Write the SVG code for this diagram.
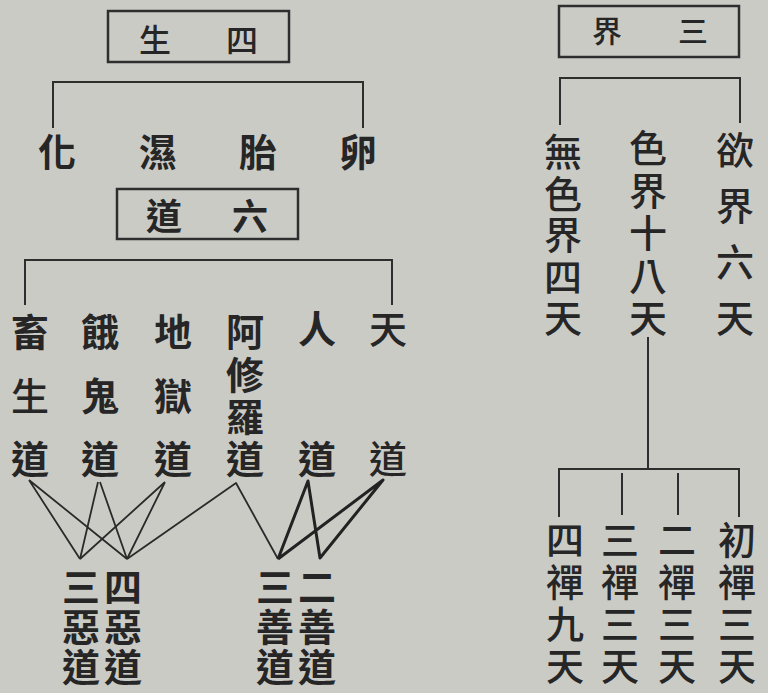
<svg xmlns="http://www.w3.org/2000/svg" width="768" height="693" viewBox="0 0 768 693">
<style>
.t{font-family:"Noto Sans CJK TC","Noto Sans CJK SC",sans-serif;fill:#262626;text-anchor:middle;font-weight:700}
.m{font-weight:500}
.v{writing-mode:vertical-rl;text-anchor:start}
.box{fill:none;stroke:#2e2e2e;stroke-width:2.5}
.br{fill:none;stroke:#2e2e2e;stroke-width:2}
.ln{fill:none;stroke:#2a2a2a;stroke-width:1.8;stroke-linejoin:round}
.lb{fill:none;stroke:#222;stroke-width:3;stroke-linejoin:round}
</style>
<rect width="768" height="693" fill="#cbcbc6"/>

<g id="sisheng">
<rect class="box" x="108" y="11" width="181" height="51"/>
<text class="t m" font-size="32" x="155" y="52">生</text>
<text class="t m" font-size="32" x="242" y="52">四</text>
</g>
<g id="hua"><text class="t" font-size="38" x="57" y="166">化</text></g>
<g id="shi"><text class="t" font-size="38" x="158" y="166">濕</text></g>
<g id="tai"><text class="t" font-size="38" x="258" y="166">胎</text></g>
<g id="luan"><text class="t" font-size="38" x="358" y="166">卵</text></g>

<g id="liudao">
<rect class="box" x="117" y="189" width="181" height="50"/>
<text class="t" font-size="36" x="164" y="230">道</text>
<text class="t" font-size="36" x="250" y="230">六</text>
</g>

<g id="chusheng">
<text class="t v" font-size="38" x="30" y="313" letter-spacing="25.5">畜<tspan font-weight="500">生</tspan>道</text>
</g>
<g id="egui">
<text class="t v" font-size="38" x="100" y="313" letter-spacing="25.5">餓鬼道</text>
</g>
<g id="diyu">
<text class="t v" font-size="38" x="173" y="313" letter-spacing="25.5">地獄道</text>
</g>
<g id="axiuluo">
<text class="t v" font-size="38" x="245" y="313" letter-spacing="4.3">阿修羅道</text>
</g>
<g id="rendao">
<text class="t" font-size="38" x="317" y="343">人</text>
<text class="t" font-size="38" x="317" y="473">道</text>
</g>
<g id="tiandao">
<text class="t m" font-size="38" x="388" y="343">天</text>
<text class="t m" font-size="38" x="388" y="473">道</text>
</g>

<g id="sanedao">
<text class="t v" font-size="38" x="81" y="568" letter-spacing="2">三惡道</text>
</g>
<g id="siedao">
<text class="t v" font-size="38" x="123" y="568" letter-spacing="2">四惡道</text>
</g>
<g id="sanshandao">
<text class="t v" font-size="38" x="275" y="568" letter-spacing="2">三善道</text>
</g>
<g id="ershandao">
<text class="t v" font-size="38" x="317" y="568" letter-spacing="2">二善道</text>
</g>

<g id="sanjie">
<rect class="box" x="559" y="6" width="180" height="51"/>
<text class="t m" font-size="30" x="607" y="42">界</text>
<text class="t m" font-size="30" x="693" y="42">三</text>
</g>
<g id="wusejie">
<text class="t m v" font-size="38" x="563" y="133" letter-spacing="3.5">無色界四天</text>
</g>
<g id="sejie">
<text class="t m v" font-size="38" x="648" y="129" letter-spacing="4.5">色界十八天</text>
</g>
<g id="yujie">
<text class="t m v" font-size="38" x="735" y="131" letter-spacing="18">欲界六天</text>
</g>

<g id="sichan">
<text class="t m v" font-size="38" x="565" y="521" letter-spacing="4">四禪九天</text>
</g>
<g id="sanchan">
<text class="t m v" font-size="38" x="620" y="521" letter-spacing="4">三禪三天</text>
</g>
<g id="erchan">
<text class="t m v" font-size="38" x="677" y="521" letter-spacing="4">二禪三天</text>
</g>
<g id="chuchan">
<text class="t m v" font-size="38" x="737" y="521" letter-spacing="4">初禪三天</text>
</g>

<g id="connectors">
<path class="br" d="M53,128 V82 H363 V128"/>
<path class="br" d="M25,305 V260 H392 V305"/>
<path class="br" d="M560,125 V78 H740 V123"/>
<path class="br" d="M648,337 V469"/>
<path class="br" d="M559,517 V469 H739 V517"/>
<path class="br" d="M622,473 V515"/>
<path class="br" d="M678,473 V515"/>
<path class="ln" d="M29,480 L80,559 M29,480 L127,559"/>
<path class="ln" d="M98,482 L80,559 M100,482 L127,559"/>
<path class="ln" d="M165,482 L80,559 M165,482 L127,559"/>
<path class="ln" d="M127,559 L236,483 L278,559"/>
<path class="lb" d="M278,559 L308,481 L320,558 L383,480 L278,559"/>
</g>
</svg>
